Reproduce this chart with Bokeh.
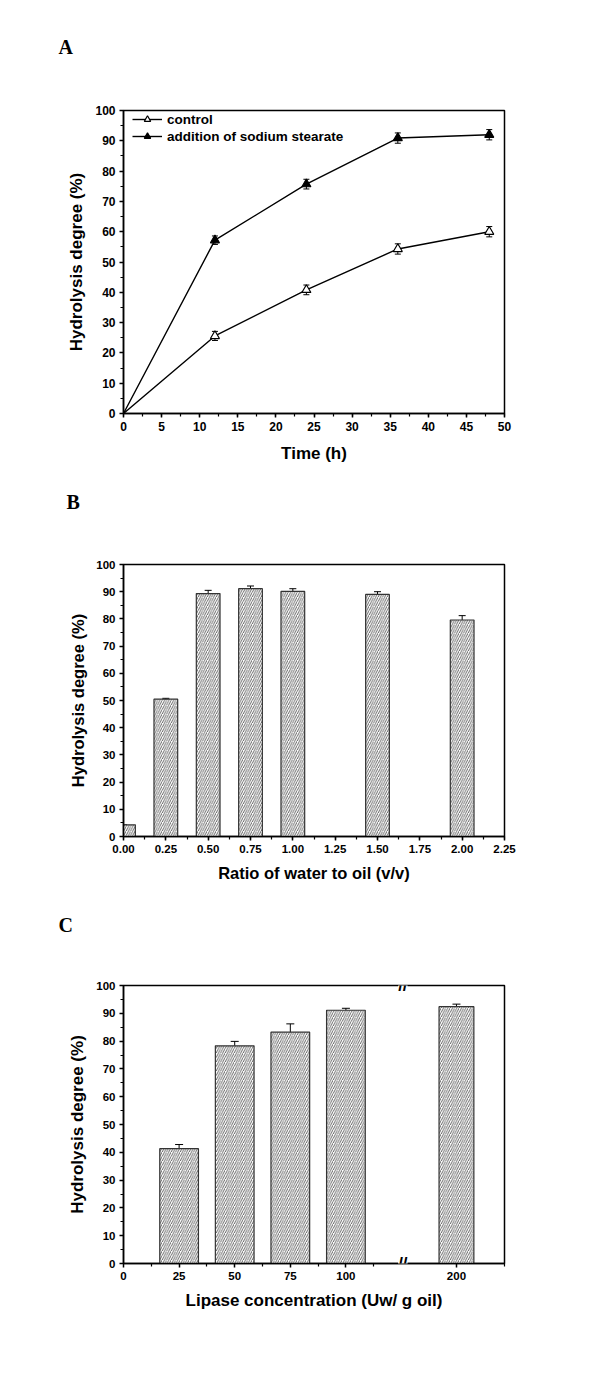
from bokeh.plotting import figure
from bokeh.models import (Range1d, SingleIntervalTicker, FixedTicker, Whisker, TeeHead,
                          ColumnDataSource, Label, NumeralTickFormatter, Title)
from bokeh.layouts import column
from bokeh.embed import file_html
from bokeh.resources import INLINE

# ---------------- data ----------------
# Panel A
time_h = [0, 12, 24, 36, 48]
control = [0, 25.6, 40.8, 54.3, 60.0]
control_err = [0, 1.5, 1.6, 1.7, 1.7]
stearate = [0, 57.2, 75.7, 90.9, 92.0]
stearate_err = [0, 1.4, 1.6, 1.7, 1.7]

# Panel B
ratio = [0.0, 0.25, 0.5, 0.75, 1.0, 1.5, 2.0]
hyd_b = [4.3, 50.5, 89.3, 91.1, 90.1, 89.0, 79.6]
err_b = [0.0, 0.3, 1.2, 1.0, 1.0, 1.0, 1.6]

# Panel C
lipase = [25, 50, 75, 100, 200]
hyd_c = [41.3, 78.3, 83.2, 91.1, 92.4]
err_c = [1.5, 1.6, 3.0, 0.7, 0.9]
c_tick_values = [0, 25, 50, 75, 100, 200]

FONT = "Liberation Sans"
SERIF = "Liberation Serif"


def style(p, xlabel, ylabel, tick_size, title_size, xstand, ystand):
    p.outline_line_color = "black"
    p.outline_line_width = 1.5
    p.grid.visible = False
    p.background_fill_color = "white"
    p.border_fill_color = "white"
    for ax in (p.xaxis[0], p.yaxis[0]):
        ax.axis_line_width = 1.5
        ax.axis_line_color = "black"
        ax.major_tick_line_width = 1.5
        ax.minor_tick_line_width = 1.2
        ax.major_tick_out = 4
        ax.major_tick_in = 0
        ax.minor_tick_out = 3
        ax.minor_tick_in = 0
        ax.major_label_text_font = FONT
        ax.major_label_text_font_style = "bold"
        ax.major_label_text_font_size = tick_size
        ax.major_label_text_color = "black"
        ax.axis_label_text_font = FONT
        ax.axis_label_text_font_style = "bold"
        ax.axis_label_text_font_size = title_size
        ax.axis_label_text_color = "black"
        ax.major_label_standoff = 4
    p.xaxis.axis_label = xlabel
    p.yaxis.axis_label = ylabel
    p.xaxis.axis_label_standoff = xstand
    p.yaxis.axis_label_standoff = ystand
    p.yaxis.ticker = SingleIntervalTicker(interval=10, num_minor_ticks=2)


def panel_label(p, text, offset, gap):
    # panel letter is the figure title; a blank title nearer the frame pushes it up
    p.title.text = text
    p.title.align = "left"
    p.title.offset = offset
    p.title.standoff = 0
    p.title.vertical_align = "bottom"
    p.title.text_font = SERIF
    p.title.text_font_style = "bold"
    p.title.text_font_size = "20px"
    p.title.text_color = "black"
    p.add_layout(Title(text=" ", text_font_size="1px", standoff=gap), "above")


HATCH = dict(fill_color="white", line_color="#333333", line_width=1.2, hatch_pattern="/",
             hatch_scale=4.5, hatch_weight=0.9, hatch_color="#555555")

# ---------------- Panel A ----------------
pa = figure(width=592, height=480, min_border_left=121, min_border_right=84,
            min_border_top=110, min_border_bottom=67,
            x_range=Range1d(0, 50), y_range=Range1d(0, 100),
            output_backend="svg", toolbar_location=None)
style(pa, "Time (h)", "Hydrolysis degree (%)", "12px", "17px", 10, 6)
pa.xaxis.ticker = SingleIntervalTicker(interval=5, num_minor_ticks=2)

src_c = ColumnDataSource(dict(x=time_h, y=control,
                              u=[v + e for v, e in zip(control, control_err)],
                              l=[v - e for v, e in zip(control, control_err)]))
src_s = ColumnDataSource(dict(x=time_h, y=stearate,
                              u=[v + e for v, e in zip(stearate, stearate_err)],
                              l=[v - e for v, e in zip(stearate, stearate_err)]))
pts_c = ColumnDataSource(dict(x=time_h[1:], y=control[1:]))
pts_s = ColumnDataSource(dict(x=time_h[1:], y=stearate[1:]))

for src in (src_c, src_s):
    pa.add_layout(Whisker(source=src, base="x", upper="u", lower="l", dimension="height",
                          line_color="black", line_width=1,
                          upper_head=TeeHead(size=6, line_width=1, line_color="black"),
                          lower_head=TeeHead(size=6, line_width=1, line_color="black")))

pa.line("x", "y", source=src_c, line_color="black", line_width=1.4, legend_label="control")
pa.scatter("x", "y", source=pts_c, marker="triangle", size=9, fill_color="white",
           line_color="black", line_width=1.2, legend_label="control")
pa.line("x", "y", source=src_s, line_color="black", line_width=1.4,
        legend_label="addition of sodium stearate")
pa.scatter("x", "y", source=pts_s, marker="triangle", size=9, fill_color="black",
           line_color="black", line_width=1.2, legend_label="addition of sodium stearate")

lg = pa.legend[0]
lg.location = (9, 269)
lg.border_line_color = None
lg.background_fill_alpha = 0
lg.padding = 0
lg.margin = 0
lg.spacing = 1
lg.label_height = 16
lg.glyph_height = 16
lg.glyph_width = 30
lg.label_standoff = 5
lg.label_text_font = FONT
lg.label_text_font_style = "bold"
lg.label_text_font_size = "13.5px"
lg.label_text_color = "black"

panel_label(pa, "A", -65, 50)

# ---------------- Panel B ----------------
pb = figure(width=592, height=420, min_border_left=123, min_border_right=84,
            min_border_top=84, min_border_bottom=64,
            x_range=Range1d(0, 2.25), y_range=Range1d(0, 100),
            output_backend="svg", toolbar_location=None)
style(pb, "Ratio of water to oil (v/v)", "Hydrolysis degree (%)", "11.5px", "16.5px", 8, 6)
pb.xaxis.ticker = SingleIntervalTicker(interval=0.25, num_minor_ticks=2)
pb.xaxis.formatter = NumeralTickFormatter(format="0.00")

src_b = ColumnDataSource(dict(x=ratio, top=hyd_b,
                              u=[v + e for v, e in zip(hyd_b, err_b)],
                              l=[v - e for v, e in zip(hyd_b, err_b)]))
pb.vbar(x="x", top="top", bottom=0, width=0.14, source=src_b, **HATCH)
pb.add_layout(Whisker(source=src_b, base="x", upper="u", lower="l", dimension="height",
                      line_color="black", line_width=1,
                      upper_head=TeeHead(size=7, line_width=1, line_color="black"),
                      lower_head=TeeHead(size=7, line_width=1, line_color="black")))
panel_label(pb, "B", -57, 49)

# ---------------- Panel C ----------------
BREAK_LO, BREAK_HI, POST_SCALE = 125, 175, 0.9
POST_OFFSET = 127.2


def c_pos(v):
    """Broken-axis scale: linear up to 125, compressed segment from 175."""
    return v if v <= BREAK_LO else POST_OFFSET + (v - BREAK_HI) * POST_SCALE


C_END = c_pos(224.0)
bar_w_c = 17.4

pc = figure(width=592, height=488, min_border_left=121, min_border_right=88,
            min_border_top=85, min_border_bottom=125,
            x_range=Range1d(0, C_END), y_range=Range1d(0, 100),
            output_backend="svg", toolbar_location=None)
style(pc, "Lipase concentration (Uw/ g oil)", "Hydrolysis degree (%)", "11.5px", "17px", 8, 6)
minor_c = [c_pos(v) for v in (12.5, 37.5, 62.5, 87.5, 112.5)] + [C_END]
pc.xaxis.ticker = FixedTicker(ticks=[c_pos(v) for v in c_tick_values], minor_ticks=minor_c)
pc.xaxis.major_label_overrides = {c_pos(v): str(v) for v in c_tick_values}

src_cc = ColumnDataSource(dict(
    x=[c_pos(v) for v in lipase],
    left=[c_pos(v - bar_w_c / 2) for v in lipase],
    right=[c_pos(v + bar_w_c / 2) for v in lipase],
    top=hyd_c,
    u=[v + e for v, e in zip(hyd_c, err_c)],
    l=[v - e for v, e in zip(hyd_c, err_c)]))
pc.quad(left="left", right="right", top="top", bottom=0, source=src_cc, **HATCH)
pc.add_layout(Whisker(source=src_cc, base="x", upper="u", lower="l", dimension="height",
                      line_color="black", line_width=1,
                      upper_head=TeeHead(size=8, line_width=1, line_color="black"),
                      lower_head=TeeHead(size=8, line_width=1, line_color="black")))
brk = (c_pos(BREAK_LO) + c_pos(BREAK_HI)) / 2 - 0.5
for yb in (0, 100):
    pc.add_layout(Label(x=brk, y=yb, text="//", text_font=FONT, text_font_style="bold",
                        text_font_size="17px", text_align="center", text_baseline="middle",
                        text_color="black", background_fill_color="white", level="overlay"))
panel_label(pc, "C", -65, 47)

layout = column(pa, pb, pc, spacing=0)
open("out.html", "w").write(file_html(layout, INLINE))
